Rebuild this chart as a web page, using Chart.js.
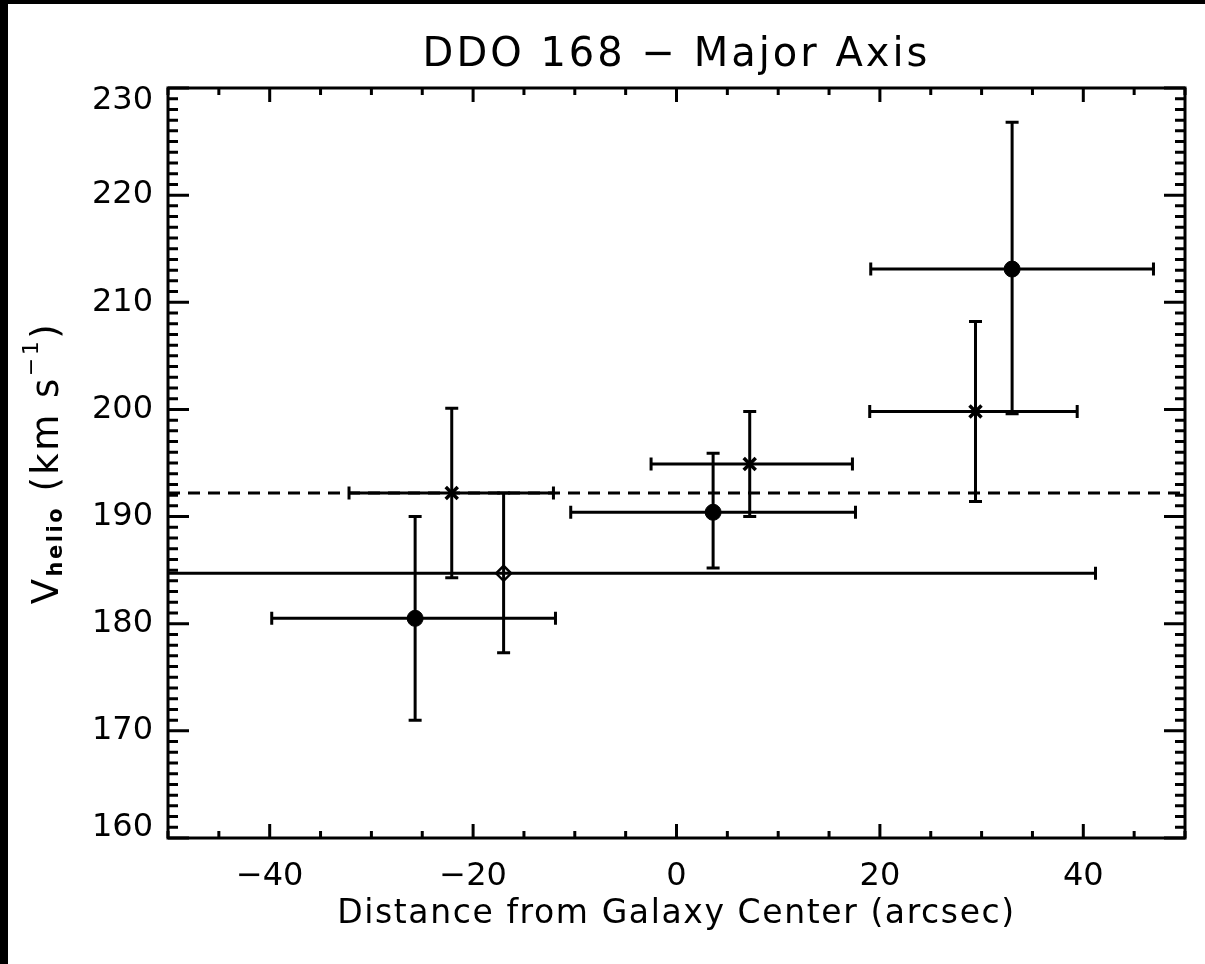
<!DOCTYPE html>
<html>
<head>
<meta charset="utf-8">
<script src="https://cdn.jsdelivr.net/npm/chart.js@4.4.1/dist/chart.umd.min.js"></script>
<style>
  html, body { margin: 0; padding: 0; background: #000; }
  #chart { position: absolute; left: 8px; top: 4px; background: #fff; }
</style>
</head>
<body>
<canvas id="chart" width="1197" height="960"></canvas>
<script>
const xPos   = [-25.7, -22.1, -17.0, 3.6, 7.2, 29.4, 33.0];
const vHelio = [180.5, 192.2, 184.7, 190.4, 194.9, 199.8, 213.1];
const xLow   = [-39.8, -32.2, -75.0, -10.4, -2.5, 19.0, 19.1];
const xHigh  = [-11.9, -12.1, 41.2, 17.6, 17.3, 39.4, 46.9];
const vLow   = [171.0, 184.3, 177.3, 185.2, 190.0, 191.4, 199.6];
const vHigh  = [190.0, 200.1, 192.2, 195.9, 199.8, 208.2, 226.8];
const marker = ['circle', 'cross', 'diamond', 'circle', 'cross', 'cross', 'circle'];
const vSys = 192.2;

const xTicks = [-40, -20, 0, 20, 40];
const yTicks = [160, 170, 180, 190, 200, 210, 220, 230];

const FONT = '"DejaVu Sans", sans-serif';

const pick = (kind) => xPos
  .map((x, i) => ({ x: x, y: vHelio[i], k: marker[i] }))
  .filter(p => p.k === kind);

// error bars, ticks, frame and text that chart.js doesn't do itself
const idlPlot = {
  id: 'idlPlot',
  beforeDatasetsDraw(chart) {
    const { ctx, chartArea: a, scales: { x, y } } = chart;
    ctx.save();
    ctx.beginPath();
    ctx.rect(a.left, a.top, a.right - a.left, a.bottom - a.top);
    ctx.clip();
    ctx.strokeStyle = '#000';
    ctx.lineWidth = 3;
    const cap = 6.5;
    xPos.forEach((xv, i) => {
      const px = x.getPixelForValue(xv);
      const py = y.getPixelForValue(vHelio[i]);
      const x0 = x.getPixelForValue(xLow[i]);
      const x1 = x.getPixelForValue(xHigh[i]);
      const y0 = y.getPixelForValue(vLow[i]);
      const y1 = y.getPixelForValue(vHigh[i]);
      ctx.beginPath();
      ctx.moveTo(x0, py); ctx.lineTo(x1, py);
      ctx.moveTo(x0, py - cap); ctx.lineTo(x0, py + cap);
      ctx.moveTo(x1, py - cap); ctx.lineTo(x1, py + cap);
      ctx.moveTo(px, y0); ctx.lineTo(px, y1);
      ctx.moveTo(px - cap, y0); ctx.lineTo(px + cap, y0);
      ctx.moveTo(px - cap, y1); ctx.lineTo(px + cap, y1);
      ctx.stroke();
    });
    ctx.restore();
  },
  afterDraw(chart) {
    const { ctx, chartArea: a, scales: { x, y } } = chart;
    ctx.save();
    ctx.strokeStyle = '#000';
    ctx.fillStyle = '#000';

    // inward ticks on all four sides
    ctx.lineWidth = 3;
    ctx.beginPath();
    for (let v = -50; v <= 50; v += 5) {
      const p = x.getPixelForValue(v);
      const len = v % 20 === 0 ? 14 : 7;
      ctx.moveTo(p, a.bottom); ctx.lineTo(p, a.bottom - len);
      ctx.moveTo(p, a.top); ctx.lineTo(p, a.top + len);
    }
    for (let v = 160; v <= 230; v += 1) {
      const p = y.getPixelForValue(v);
      const len = v % 10 === 0 ? 21 : 10;
      ctx.moveTo(a.left, p); ctx.lineTo(a.left + len, p);
      ctx.moveTo(a.right, p); ctx.lineTo(a.right - len, p);
    }
    ctx.stroke();

    ctx.lineWidth = 3;
    ctx.strokeRect(a.left, a.top, a.right - a.left, a.bottom - a.top);

    // y tick labels, end ones kept inside the frame
    ctx.font = '32px ' + FONT;
    ctx.textAlign = 'right';
    ctx.textBaseline = 'middle';
    yTicks.forEach(v => {
      let p = y.getPixelForValue(v);
      p = Math.min(Math.max(p, a.top + 13), a.bottom - 10);
      ctx.fillText(String(v), a.left - 15, p);
    });

    // title
    ctx.textAlign = 'center';
    ctx.font = '40px ' + FONT;
    ctx.letterSpacing = '3px';
    ctx.fillText('DDO 168 \u2212 Major Axis', (a.left + a.right) / 2, 52);

    // x axis title
    ctx.font = '33px ' + FONT;
    ctx.letterSpacing = '1.6px';
    ctx.fillText('Distance from Galaxy Center (arcsec)', (a.left + a.right) / 2, 910);

    // y axis title with sub and superscript
    ctx.letterSpacing = '2.5px';
    const parts = [
      { t: 'V', f: '37px ' + FONT, dy: 0 },
      { t: 'helio', f: 'bold 21px ' + FONT, dy: 9 },
      { t: ' (km s', f: '37px ' + FONT, dy: 0 },
      { t: '\u22121', f: '22px ' + FONT, dy: -16 },
      { t: ')', f: '37px ' + FONT, dy: 0 }
    ];
    let total = 0;
    parts.forEach(pt => { ctx.font = pt.f; pt.w = ctx.measureText(pt.t).width; total += pt.w; });
    ctx.translate(40, (a.top + a.bottom) / 2);
    ctx.rotate(-Math.PI / 2);
    ctx.textAlign = 'left';
    let cx = -total / 2;
    parts.forEach(pt => {
      ctx.font = pt.f;
      ctx.fillText(pt.t, cx, pt.dy);
      cx += pt.w;
    });
    ctx.restore();
  }
};

const ctx = document.getElementById('chart').getContext('2d');
const chart = new Chart(ctx, {
  type: 'scatter',
  data: {
    datasets: [{
      type: 'line',
      data: [{ x: -50, y: vSys }, { x: 50, y: vSys }],
      borderColor: '#000',
      borderWidth: 3,
      borderDash: [12, 8],
      pointRadius: 0
    }, {
      data: pick('circle'),
      pointStyle: 'circle',
      pointRadius: 8,
      backgroundColor: '#000',
      borderColor: '#000',
      borderWidth: 1
    }, {
      data: pick('cross'),
      pointStyle: 'crossRot',
      pointRadius: 8.5,
      borderColor: '#000',
      borderWidth: 3.5
    }, {
      data: pick('diamond'),
      pointStyle: 'rectRot',
      pointRadius: 7.5,
      backgroundColor: 'rgba(0,0,0,0)',
      borderColor: '#000',
      borderWidth: 2.5
    }]
  },
  options: {
    responsive: false,
    devicePixelRatio: 1,
    animation: false,
    layout: { padding: { left: 0, right: 20, top: 84, bottom: 0 } },
    plugins: { legend: { display: false }, tooltip: { enabled: false } },
    scales: {
      x: {
        type: 'linear',
        min: -50, max: 50,
        afterBuildTicks: (s) => { s.ticks = xTicks.map(v => ({ value: v })); },
        afterFit: (s) => { s.height = 126; },
        grid: { display: false, drawTicks: false },
        border: { display: false },
        ticks: {
          color: '#000',
          padding: 19,
          font: { family: FONT, size: 32 },
          maxRotation: 0,
          callback: (v) => String(v).replace('-', '\u2212')
        }
      },
      y: {
        type: 'linear',
        min: 160, max: 230,
        afterBuildTicks: (s) => { s.ticks = yTicks.map(v => ({ value: v })); },
        afterFit: (s) => { s.width = 160; },
        grid: { display: false, drawTicks: false },
        border: { display: false },
        ticks: { display: false }
      }
    }
  },
  plugins: [idlPlot]
});
</script>
</body>
</html>
